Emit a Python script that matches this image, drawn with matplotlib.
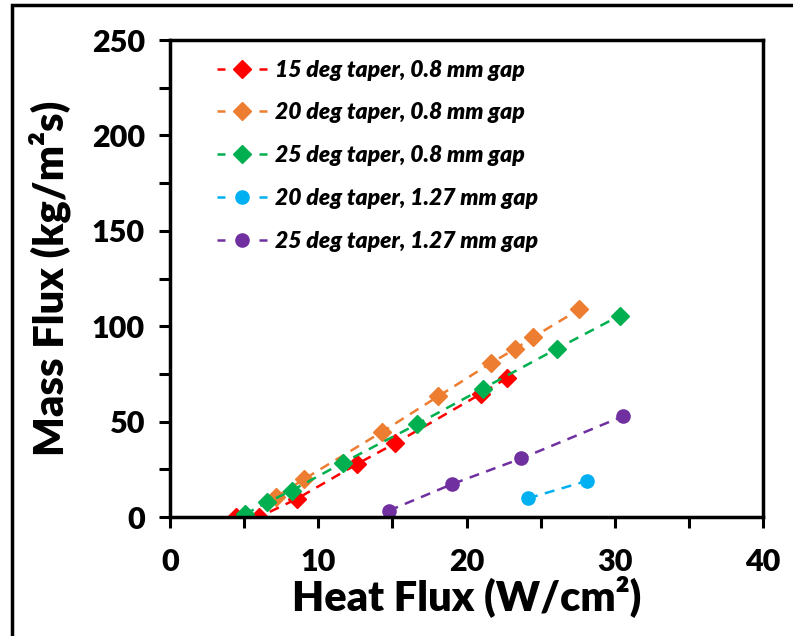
import matplotlib.pyplot as plt
from matplotlib.patches import Rectangle
from matplotlib.ticker import MultipleLocator

plt.rcParams['font.family'] = ['Lato', 'DejaVu Sans']

# 15 deg taper, 0.8 mm gap
x15_08 = [4.45, 6.0, 8.55, 12.6, 15.2, 21.0, 22.75]
y15_08 = [0, 0, 9.5, 27.7, 38.7, 64.7, 72.9]

# 20 deg taper, 0.8 mm gap
x20_08 = [7.15, 9.05, 14.3, 18.1, 21.65, 23.3, 24.5, 27.6]
y20_08 = [10.5, 19.9, 44.6, 63.3, 80.7, 88.2, 94.3, 108.8]

# 25 deg taper, 0.8 mm gap
x25_08 = [5.05, 6.55, 8.2, 11.65, 16.65, 21.1, 26.1, 30.35]
y25_08 = [1.4, 7.7, 13.8, 28.4, 48.6, 67.3, 88.2, 105.6]

# 20 deg taper, 1.27 mm gap
x20_127 = [24.15, 28.15]
y20_127 = [9.8, 19.0]

# 25 deg taper, 1.27 mm gap
x25_127 = [14.75, 19.05, 23.7, 30.55]
y25_127 = [3.3, 17.3, 30.7, 52.8]

fig = plt.figure(figsize=(7.93, 6.36), dpi=100)
ax = fig.add_axes([0.2144, 0.1871, 0.7478, 0.75])

ax.plot(x15_08, y15_08, ls=(0, (4, 3)), color='#FF0000', marker='D', ms=9.5, lw=1.8,
        label='15 deg taper, 0.8 mm gap')
ax.plot(x20_08, y20_08, ls=(0, (4, 3)), color='#ED7D31', marker='D', ms=9.5, lw=1.8,
        label='20 deg taper, 0.8 mm gap')
ax.plot(x25_08, y25_08, ls=(0, (4, 3)), color='#00B050', marker='D', ms=9.5, lw=1.8,
        label='25 deg taper, 0.8 mm gap')
ax.plot(x20_127, y20_127, ls=(0, (4, 3)), color='#00B0F0', marker='o', ms=9.5, lw=1.8,
        label='20 deg taper, 1.27 mm gap')
ax.plot(x25_127, y25_127, ls=(0, (4, 3)), color='#7030A0', marker='o', ms=9.5, lw=1.8,
        label='25 deg taper, 1.27 mm gap')

ax.set_xlim(0, 40)
ax.set_ylim(0, 250)
ax.xaxis.set_major_locator(MultipleLocator(10))
ax.xaxis.set_minor_locator(MultipleLocator(5))
ax.yaxis.set_major_locator(MultipleLocator(50))
ax.yaxis.set_minor_locator(MultipleLocator(25))
ax.tick_params(which='both', direction='out', length=8, width=2.2, labelsize=22)
ax.tick_params(axis='x', pad=14)
ax.tick_params(axis='y', pad=10)
for lab in ax.get_xticklabels() + ax.get_yticklabels():
    lab.set_fontweight('heavy')
for s in ax.spines.values():
    s.set_linewidth(2.5)

ax.set_xlabel('Heat Flux (W/cm²)', fontsize=30, fontweight='heavy', labelpad=0)
ax.set_ylabel('Mass Flux (kg/m²s)', fontsize=30, fontweight='heavy', labelpad=15)

leg = ax.legend(loc='upper left', frameon=False, handlelength=2.2, handletextpad=0.35,
                labelspacing=0.95, borderpad=0, borderaxespad=0,
                prop={'weight': 'heavy', 'style': 'italic', 'size': 16.5},
                bbox_to_anchor=(0.079, 0.959))
for line in leg.get_lines():
    line.set_linestyle((0, (3.2, 13.6)))

fig.patches.append(Rectangle((12 / 793, -0.05), 1.2, 1.05 - 5 / 636, transform=fig.transFigure,
                             fill=False, edgecolor='black', lw=2.5))

fig.savefig('out.png', dpi=100)
